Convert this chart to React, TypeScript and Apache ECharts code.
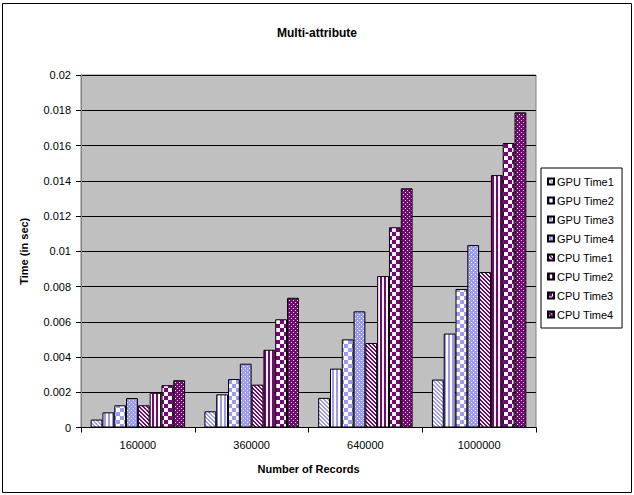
import React, { useEffect, useRef } from "react";
import * as echarts from "echarts";

const categories = ["160000", "360000", "640000", "1000000"];
const seriesNames = ["GPU Time1", "GPU Time2", "GPU Time3", "GPU Time4", "CPU Time1", "CPU Time2", "CPU Time3", "CPU Time4"];
const gpuTime1 = [0.00045, 0.00092, 0.00168, 0.00272];
const gpuTime2 = [0.00086, 0.00188, 0.00334, 0.00533];
const gpuTime3 = [0.00126, 0.00275, 0.005, 0.00786];
const gpuTime4 = [0.00167, 0.00362, 0.00659, 0.01035];
const cpuTime1 = [0.00126, 0.00243, 0.00479, 0.00882];
const cpuTime2 = [0.00197, 0.00441, 0.00859, 0.01432];
const cpuTime3 = [0.0024, 0.00614, 0.01136, 0.01614];
const cpuTime4 = [0.00268, 0.00736, 0.01357, 0.01788];
const seriesData = [gpuTime1, gpuTime2, gpuTime3, gpuTime4, cpuTime1, cpuTime2, cpuTime3, cpuTime4];

const GPU = "#9999FF";
const CPU = "#800080";
const FONT = "'Liberation Sans', Arial, sans-serif";

type Kind = "diag" | "vert" | "check" | "dots";

function makePattern(kind: Kind, color: string) {
  const size = kind === "check" ? 8 : 4;
  const c = document.createElement("canvas");
  c.width = size;
  c.height = size;
  const ctx = c.getContext("2d")!;
  const paint = (x: number, y: number, col: string) => {
    ctx.fillStyle = col;
    ctx.fillRect(x, y, 1, 1);
  };
  for (let y = 0; y < size; y++) {
    for (let x = 0; x < size; x++) {
      let on = false;
      if (kind === "diag") on = ((x - y + 8) % 4) < 2;
      else if (kind === "vert") on = x < 2;
      else if (kind === "check") on = (Math.floor(x / 4) + Math.floor(y / 4)) % 2 === 0;
      else if (kind === "dots") on = !((x === 1 && y === 0) || (x === 3 && y === 2));
      paint(x, y, on ? color : "#FFFFFF");
    }
  }
  return { image: c, repeat: "repeat" } as any;
}

const kinds: Kind[] = ["diag", "vert", "check", "dots", "diag", "vert", "check", "dots"];

export default function App() {
  const ref = useRef<HTMLDivElement>(null);
  useEffect(() => {
    document.body.style.margin = "0";
    const chart = echarts.init(ref.current!, null, { renderer: "svg" });
    const series = seriesNames.map((name, i) => ({
      name,
      type: "bar",
      data: seriesData[i],
      barGap: "0%",
      barCategoryGap: "17%",
      itemStyle: {
        color: makePattern(kinds[i], i < 4 ? GPU : CPU),
        borderColor: "#000000",
        borderWidth: 1,
      },
      emphasis: { disabled: true },
    }));
    chart.setOption({
      animation: false,
      textStyle: { fontFamily: FONT },
      title: {
        text: "Multi-attribute",
        left: "center",
        top: 22,
        textStyle: { fontSize: 12, fontWeight: "bold", color: "#000", fontFamily: FONT },
      },
      graphic: [
        {
          type: "rect",
          shape: { x: 2.5, y: 3.5, width: 629, height: 489 },
          style: { fill: "none", stroke: "#000", lineWidth: 1 },
          silent: true,
        },
      ],
      legend: {
        orient: "vertical",
        left: 541,
        top: 168,
        backgroundColor: "#FFFFFF",
        borderColor: "#000000",
        borderWidth: 1,
        padding: [7, 8, 7, 6],
        itemWidth: 6,
        itemHeight: 6,
        itemGap: 6,
        icon: "rect",
        textStyle: { fontSize: 11, color: "#000", fontFamily: FONT, padding: [0, 0, 0, -2], lineHeight: 13 },
        data: seriesNames,
      },
      grid: {
        left: 81,
        top: 75,
        width: 455,
        height: 352.5,
        show: true,
        backgroundColor: "#C0C0C0",
        borderColor: "#808080",
        borderWidth: 1,
      },
      xAxis: {
        type: "category",
        data: categories,
        name: "Number of Records",
        nameLocation: "middle",
        nameGap: 36,
        nameTextStyle: { fontSize: 11, fontWeight: "bold", color: "#000", fontFamily: FONT },
        axisLine: { lineStyle: { color: "#000", width: 1 } },
        axisTick: { show: true, length: 5, lineStyle: { color: "#000" } },
        axisLabel: { fontSize: 11, color: "#000", margin: 12, fontFamily: FONT },
      },
      yAxis: {
        type: "value",
        min: 0,
        max: 0.02,
        interval: 0.002,
        name: "Time (in sec)",
        nameLocation: "middle",
        nameGap: 52,
        nameTextStyle: { fontSize: 11, fontWeight: "bold", color: "#000", fontFamily: FONT },
        axisLine: { show: true, lineStyle: { color: "#808080", width: 1 } },
        axisTick: { show: true, length: 5, lineStyle: { color: "#000" } },
        axisLabel: {
          fontSize: 11,
          color: "#000",
          margin: 10,
          fontFamily: FONT,
          formatter: (v: number) => String(+v.toFixed(3)),
        },
        splitLine: { show: true, lineStyle: { color: "#000", width: 1 } },
      },
      series,
    });
    return () => chart.dispose();
  }, []);
  return <div ref={ref} style={{ width: 634, height: 495 }} />;
}
